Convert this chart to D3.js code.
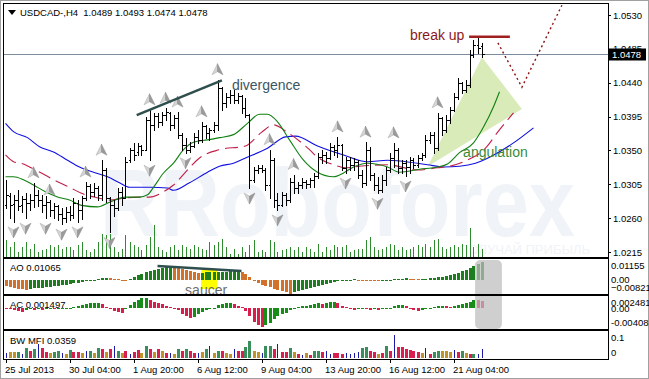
<!DOCTYPE html>
<html>
<head>
<meta charset="utf-8">
<script src="https://cdnjs.cloudflare.com/ajax/libs/d3/7.8.5/d3.min.js"></script>
<style>
  body { margin: 0; background: #fff; }
  svg { display: block; font-family: "Liberation Sans", Arial, sans-serif; }
</style>
</head>
<body>
<svg id="chart" width="649" height="379"></svg>
<script>
// USDCAD H4, bar 0 = first bar on screen (25 Jul 2013), bar 119 = last
const opens = [1.0277,1.0289,1.0279,1.0284,1.0277,1.0285,1.0280,1.0284,1.0291,1.0284,
  1.0277,1.0281,1.0271,1.0276,1.0266,1.0260,1.0268,1.0264,1.0280,1.0271,
  1.0287,1.0303,1.0295,1.0300,1.0291,1.0324,1.0287,1.0277,1.0273,1.0295,
  1.0287,1.0337,1.0351,1.0348,1.0356,1.0351,1.0390,1.0384,1.0396,1.0388,
  1.0397,1.0400,1.0384,1.0393,1.0371,1.0357,1.0351,1.0356,1.0368,1.0364,
  1.0382,1.0373,1.0377,1.0384,1.0433,1.0413,1.0421,1.0424,1.0417,1.0422,
  1.0406,1.0397,1.0311,1.0324,1.0327,1.0324,1.0304,1.0337,1.0284,1.0277,
  1.0291,1.0284,1.0308,1.0300,1.0304,1.0308,1.0305,1.0311,1.0316,1.0341,
  1.0344,1.0340,1.0355,1.0351,1.0357,1.0327,1.0337,1.0331,1.0335,1.0317,
  1.0307,1.0351,1.0317,1.0304,1.0297,1.0311,1.0324,1.0340,1.0351,1.0327,
  1.0333,1.0328,1.0337,1.0331,1.0340,1.0344,1.0364,1.0371,1.0353,1.0393,
  1.0377,1.0390,1.0404,1.0421,1.0440,1.0430,1.0437,1.0477,1.0490,1.0489];
const highs = [1.0311,1.0293,1.0291,1.0297,1.0289,1.0293,1.0292,1.0307,1.0297,1.0291,
  1.0289,1.0284,1.0280,1.0277,1.0273,1.0275,1.0276,1.0287,1.0284,1.0289,
  1.0308,1.0305,1.0307,1.0303,1.0337,1.0326,1.0288,1.0284,1.0300,1.0301,
  1.0341,1.0353,1.0360,1.0360,1.0357,1.0394,1.0404,1.0400,1.0400,1.0401,
  1.0406,1.0401,1.0397,1.0401,1.0373,1.0367,1.0361,1.0373,1.0377,1.0388,
  1.0384,1.0380,1.0388,1.0444,1.0434,1.0426,1.0430,1.0430,1.0426,1.0424,
  1.0420,1.0399,1.0328,1.0331,1.0331,1.0327,1.0351,1.0340,1.0293,1.0295,
  1.0293,1.0313,1.0318,1.0308,1.0313,1.0311,1.0313,1.0320,1.0347,1.0351,
  1.0348,1.0360,1.0357,1.0368,1.0359,1.0341,1.0341,1.0340,1.0337,1.0324,
  1.0361,1.0355,1.0320,1.0315,1.0317,1.0328,1.0347,1.0360,1.0353,1.0337,
  1.0337,1.0341,1.0340,1.0344,1.0347,1.0371,1.0374,1.0374,1.0400,1.0394,
  1.0397,1.0408,1.0426,1.0446,1.0441,1.0444,1.0483,1.0497,1.0499,1.0493];
const lows = [1.0273,1.0260,1.0255,1.0271,1.0268,1.0260,1.0271,1.0275,1.0276,1.0268,
  1.0260,1.0263,1.0260,1.0258,1.0252,1.0255,1.0258,1.0260,1.0255,1.0259,
  1.0284,1.0287,1.0289,1.0284,1.0284,1.0281,1.0241,1.0263,1.0271,1.0277,
  1.0287,1.0335,1.0337,1.0344,1.0344,1.0351,1.0337,1.0377,1.0381,1.0384,
  1.0390,1.0377,1.0380,1.0367,1.0351,1.0347,1.0348,1.0355,1.0360,1.0361,
  1.0367,1.0364,1.0374,1.0377,1.0404,1.0408,1.0413,1.0413,1.0413,1.0400,
  1.0394,1.0300,1.0308,1.0320,1.0321,1.0297,1.0287,1.0275,1.0271,1.0276,
  1.0277,1.0282,1.0293,1.0293,1.0300,1.0300,1.0301,1.0301,1.0314,1.0333,
  1.0333,1.0338,1.0344,1.0341,1.0324,1.0320,1.0324,1.0324,1.0313,1.0301,
  1.0304,1.0311,1.0297,1.0293,1.0295,1.0304,1.0321,1.0328,1.0320,1.0320,
  1.0316,1.0320,1.0327,1.0328,1.0337,1.0341,1.0360,1.0347,1.0351,1.0371,
  1.0375,1.0386,1.0402,1.0418,1.0426,1.0428,1.0434,1.0474,1.0479,1.0474];
const closes = [1.0291,1.0277,1.0284,1.0276,1.0285,1.0280,1.0284,1.0291,1.0284,1.0277,
  1.0281,1.0271,1.0276,1.0266,1.0260,1.0268,1.0264,1.0280,1.0271,1.0287,
  1.0303,1.0295,1.0300,1.0291,1.0324,1.0287,1.0277,1.0273,1.0295,1.0287,
  1.0335,1.0351,1.0344,1.0356,1.0351,1.0390,1.0384,1.0396,1.0388,1.0397,
  1.0401,1.0384,1.0393,1.0371,1.0357,1.0351,1.0356,1.0368,1.0364,1.0382,
  1.0373,1.0377,1.0384,1.0433,1.0413,1.0421,1.0424,1.0417,1.0422,1.0406,
  1.0397,1.0311,1.0324,1.0327,1.0324,1.0304,1.0337,1.0284,1.0277,1.0291,
  1.0284,1.0308,1.0300,1.0304,1.0308,1.0305,1.0311,1.0316,1.0341,1.0344,
  1.0340,1.0355,1.0351,1.0357,1.0327,1.0337,1.0331,1.0335,1.0317,1.0307,
  1.0351,1.0317,1.0304,1.0297,1.0311,1.0324,1.0340,1.0351,1.0327,1.0333,
  1.0328,1.0337,1.0331,1.0340,1.0344,1.0364,1.0371,1.0353,1.0393,1.0377,
  1.0390,1.0404,1.0421,1.0440,1.0430,1.0437,1.0477,1.0490,1.0486,1.0478];

// tick volume per bar
const volumes = [1720,1010,1530,480,1040,1490,820,1310,530,690,800,1190,1000,1220,790,1010,980,720,1180,1520,
  690,510,830,1480,2310,2190,2330,1010,520,790,2210,1480,1190,1010,720,1210,2010,3180,1020,690,
  520,990,1190,710,1210,1010,790,1190,980,810,720,1490,1200,1510,1790,1010,330,790,310,1010,
  520,1190,1710,510,720,520,1690,1490,520,710,810,1010,700,990,520,1010,790,510,1290,520,
  1010,700,1190,1010,990,1210,510,690,810,790,1690,1990,1010,700,810,990,1290,1210,690,1010,
  710,790,990,1190,1010,1290,990,1690,1810,1010,790,1010,1190,990,1310,1190,2890,1010,1290,790];

// Alligator lines, [bar, price] (shifted forward, so they run past the last bar)
const jawLine = [[0,1.0386],[2,1.0375],[5.5,1.0367],[8.5,1.0355],[12,1.0348],[15.5,1.0337],[18.5,1.0328],
  [22,1.0321],[25.5,1.0315],[28.5,1.0307],[31,1.0301],[36,1.0301],[40.5,1.0300],[42,1.0297],[46,1.0307],
  [50.5,1.0321],[53.5,1.0329],[57,1.0333],[60,1.0340],[65.5,1.0353],[70,1.0368],[72.5,1.0369],[78,1.0356],
  [84.5,1.0344],[90.5,1.0335],[95.5,1.0337],[98.5,1.0336],[105.5,1.0331],[109.5,1.0328],[113.5,1.0329],
  [117.5,1.0333],[121,1.0341],[127,1.0360],[132,1.0380]];
const teethLine = [[0,1.0344],[2,1.0335],[4.5,1.0332],[6,1.0328],[10,1.0317],[12,1.0311],[16,1.0301],
  [19,1.0293],[23,1.0287],[26,1.0284],[30,1.0287],[33.5,1.0288],[36,1.0288],[39.5,1.0295],[42,1.0304],
  [46,1.0327],[48.5,1.0340],[53.5,1.0351],[60,1.0356],[64,1.0374],[67,1.0384],[70.5,1.0374],[76,1.0351],
  [78,1.0341],[82,1.0331],[85,1.0327],[88.5,1.0329],[95.5,1.0331],[103,1.0324],[108,1.0327],[111,1.0329],
  [115,1.0336],[120,1.0353],[123,1.0374],[127,1.0400]];
const lipsLine = [[0,1.0315],[2,1.0315],[4.5,1.0311],[7,1.0304],[10,1.0295],[13,1.0288],[16,1.0284],
  [19,1.0277],[23,1.0275],[26,1.0281],[30,1.0288],[33.5,1.0288],[35.5,1.0291],[37,1.0301],[39.5,1.0320],
  [42,1.0333],[44.5,1.0351],[47,1.0361],[50.5,1.0364],[53.5,1.0367],[57,1.0371],[60.5,1.0386],[63.5,1.0398],
  [65.5,1.0398],[68,1.0388],[71,1.0364],[74.5,1.0337],[78,1.0321],[82,1.0315],[84.5,1.0320],[87,1.0328],
  [90.5,1.0333],[95.5,1.0328],[98.5,1.0321],[103.5,1.0325],[108,1.0328],[110.5,1.0332],[113.5,1.0347],
  [117,1.0360],[119.5,1.0381],[122,1.0408],[123.5,1.0428]];

// fractal bars
const upFractals = [7,11,20,24,36,40,43,49,53,66,72,83,90,97,108];
const downFractals = [2,5,10,14,18,26,36,45,61,68,85,93,100];

// Awesome Oscillator
const aoValues = [-0.0037,-0.0044,-0.0049,-0.0052,-0.0054,-0.0056,-0.0052,-0.0050,-0.0047,-0.0046,
  -0.0043,-0.0040,-0.0037,-0.0035,-0.0031,-0.0028,-0.0025,-0.0021,-0.0017,-0.0014,
  -0.0009,-0.0005,0.0002,0.0005,0.0009,0.0011,0.0010,0.0007,0.0004,0.0001,
  -0.0003,0.0004,0.0014,0.0026,0.0036,0.0046,0.0050,0.0058,0.0065,0.0070,
  0.0074,0.0077,0.0073,0.0068,0.0063,0.0057,0.0052,0.0046,0.0041,0.0042,
  0.0043,0.0044,0.0045,0.0046,0.0047,0.0048,0.0049,0.0050,0.0051,0.0045,
  0.0034,0.0019,-0.0007,-0.0018,-0.0027,-0.0036,-0.0044,-0.0051,-0.0057,-0.0064,
  -0.0071,-0.0080,-0.0073,-0.0067,-0.0061,-0.0055,-0.0048,-0.0042,-0.0036,-0.0030,
  -0.0024,-0.0018,-0.0012,-0.0005,-0.0002,0.0001,0.0002,0.0003,0.0001,-0.0001,
  -0.0002,-0.0003,-0.0004,-0.0005,-0.0004,-0.0002,0.0001,0.0004,0.0006,0.0007,
  0.0008,0.0006,0.0004,0.0003,0.0004,0.0006,0.0008,0.0011,0.0014,0.0017,
  0.0022,0.0027,0.0034,0.0041,0.0049,0.0058,0.0068,0.0079,0.0092,0.01065];

// Accelerator Oscillator
const acValues = [0.00010,-0.00020,-0.00040,-0.00056,-0.00064,-0.00040,-0.00020,-0.00026,-0.00012,-0.00024,
  -0.00016,-0.00010,-0.00020,-0.00014,-0.00006,0.00006,0.00016,0.00026,0.00040,0.00064,
  0.00088,0.00103,0.00111,0.00115,0.00080,0.00030,-0.00020,-0.00050,-0.00076,-0.00090,
  -0.00020,0.00060,0.00119,0.00169,0.00199,0.00205,0.00159,0.00129,0.00105,0.00080,
  0.00056,0.00030,0.00006,-0.00040,-0.00100,-0.00149,-0.00199,-0.00179,-0.00119,-0.00070,
  -0.00030,-0.00006,0.00010,0.00070,0.00090,0.00100,0.00105,0.00080,0.00050,0.00020,
  -0.00060,-0.00159,-0.00259,-0.00338,-0.00378,-0.00338,-0.00279,-0.00219,-0.00159,-0.00119,
  -0.00080,-0.00040,0.00010,0.00024,0.00040,0.00056,0.00070,0.00080,0.00100,0.00090,
  0.00109,0.00119,0.00129,0.00109,0.00050,0.00020,-0.00010,-0.00030,-0.00020,-0.00010,
  -0.00020,-0.00030,-0.00020,-0.00026,-0.00016,-0.00006,0.00016,0.00040,0.00060,0.00070,
  0.00040,0.00010,-0.00030,-0.00050,-0.00030,-0.00010,0.00010,0.00026,0.00040,0.00052,
  0.00044,0.00036,0.00056,0.00070,0.00086,0.00100,0.00119,0.00175,0.00163,0.001497];

// Bill Williams Market Facilitation Index and its zone
// g = green, f = fade, k = fake, s = squat
const mfiValues = [0.0193,0.0231,0.0231,0.0231,0.0154,0.0385,0.0270,0.0347,0.0539,0.0385,
  0.0231,0.0193,0.0231,0.0270,0.0193,0.0154,0.0308,0.0231,0.0231,0.0193,
  0.0270,0.0270,0.0193,0.0385,0.0347,0.0231,0.0347,0.0462,0.0270,0.0193,
  0.0270,0.0154,0.0231,0.0308,0.0193,0.0462,0.0347,0.0231,0.0347,0.0270,
  0.0193,0.0193,0.0154,0.0347,0.0270,0.0347,0.0270,0.0193,0.0193,0.0231,
  0.0347,0.0462,0.0193,0.0270,0.0270,0.0193,0.0154,0.0347,0.0270,0.0270,
  0.0424,0.0655,0.0270,0.0231,0.0193,0.0462,0.0462,0.0347,0.0539,0.0231,
  0.0231,0.0385,0.0231,0.0154,0.0116,0.0193,0.0116,0.0270,0.0270,0.0231,
  0.0270,0.0154,0.0193,0.0193,0.0154,0.0193,0.0154,0.0193,0.0231,0.0385,
  0.0424,0.0270,0.0231,0.0154,0.0193,0.0462,0.0270,0.0886,0.0424,0.0424,
  0.0347,0.0308,0.0270,0.0231,0.0193,0.0385,0.0154,0.0231,0.0270,0.0270,
  0.0270,0.0231,0.0308,0.0231,0.0270,0.0193,0.0154,0.0154,0.0154,0.0359];
const mfiZones = ["k","f","f","g","k","g","s","g","k","s","s","f","g","g","k","f","g","s","s","f",
  "k","g","f","g","s","f","s","k","g","f","s","k","s","s","f","g","s","f","s","f",
  "s","k","f","g","s","g","s","s","k","f","g","k","f","g","s","f","f","k","s","s",
  "g","g","f","f","k","g","g","s","k","s","s","g","f","s","k","f","s","g","g","s",
  "k","k","s","s","s","k","k","k","k","g","g","s","s","f","s","g","s","k","s","s",
  "s","s","s","s","f","k","s","g","g","f","f","f","k","s","g","f","s","g","k","k"];

const priceTicks = [1.0530, 1.0485, 1.0440, 1.0395, 1.0350, 1.0305, 1.0260, 1.0215];
const lastPrice = 1.0478;
const dateTickBars = [0, 16, 32, 48, 64, 80, 96, 112];
const dateLabels = ["25 Jul 2013", "30 Jul 04:00", "1 Aug 20:00", "6 Aug 12:00",
  "9 Aug 04:00", "13 Aug 20:00", "16 Aug 12:00", "21 Aug 04:00"];

// hand-drawn analysis marks, [bar, value]
const divergenceLine = [[32.8, 1.0397], [54.1, 1.0443]];
const aoDivergenceLine = [[38, 0.0081], [59, 0.0052]];
const breakUpLine = [[115.9, 1.0501], [126.1, 1.0501]];
const forecastPath = [[123.1, 1.0493], [129.1, 1.0434], [139.1, 1.0543]];
const angulationFan = [[105.6, 1.0329], [119.1, 1.0474], [129.1, 1.0405]];
const saucerBox = [[48.9, 0.0058], [52.9, -0.0053]];

// ------------------------------------------------------------------------------------------

const svg = d3.select("#chart");
const left = 4, right = 608;
const mainTop = 4, mainBottom = 257;
const aoTop = 259, aoBottom = 294;
const acTop = 296, acBottom = 329;
const mfiTop = 331, mfiBottom = 359;

const x = d3.scaleLinear().domain([0, 119]).range([5.5, 481.5]);
const y = d3.scaleLinear().domain([1.0215, 1.0530]).range([252, 15]);
const yVol = d3.scaleLinear().domain([0, 4000]).range([mainBottom, mainBottom - 40]);
const yAO = d3.scaleLinear().domain([-0.00821, 0.01155]).range([aoBottom, aoTop + 1]);
const yAC = d3.scaleLinear().domain([-0.00408, 0.002481]).range([acBottom, acTop]);
const yMFI = d3.scaleLinear().domain([0, 0.1]).range([mfiBottom - 1, mfiTop + 1]);

const px = (i) => Math.round(x(i)) + 0.5;

const defs = svg.append("defs");
[["clipMain", mainTop, mainBottom], ["clipAO", aoTop, aoBottom], ["clipAC", acTop, acBottom],
 ["clipMFI", mfiTop, mfiBottom]].forEach(([id, t, b]) => {
  defs.append("clipPath").attr("id", id)
    .append("rect").attr("x", left).attr("y", t).attr("width", right - left).attr("height", b - t);
});

svg.append("rect").attr("width", 649).attr("height", 379).attr("fill", "#fff");

// ---------------- main window ----------------
const main = svg.append("g").attr("clip-path", "url(#clipMain)");

// watermark
main.append("text")
  .attr("x", 100).attr("y", 236)
  .attr("font-size", 96).attr("font-weight", "bold")
  .attr("fill", "#f0f3f7")
  .attr("textLength", 475).attr("lengthAdjust", "spacingAndGlyphs")
  .text("RRoboforex");
main.append("text")
  .attr("x", 590).attr("y", 254).attr("text-anchor", "end")
  .attr("font-size", 13).attr("fill", "#f0f3f7")
  .text("ПОЛУЧАЙ ПРИБЫЛЬ");

// angulation fan
main.append("path")
  .attr("d", d3.line().x(d => x(d[0])).y(d => y(d[1]))(angulationFan) + "Z")
  .attr("fill", "#d8ebb8");

// volumes
main.append("g").attr("stroke", "#2e8b2e").attr("shape-rendering", "crispEdges")
  .selectAll("line").data(volumes).join("line")
  .attr("x1", (d, i) => px(i)).attr("x2", (d, i) => px(i))
  .attr("y1", yVol(0)).attr("y2", d => yVol(d));

// alligator
const curve = d3.line().x(d => x(d[0])).y(d => y(d[1])).curve(d3.curveMonotoneX);
main.append("path").attr("d", curve(jawLine)).attr("fill", "none").attr("stroke", "#1010e0").attr("stroke-width", 1.1);
main.append("path").attr("d", curve(teethLine)).attr("fill", "none").attr("stroke", "#c02048")
  .attr("stroke-width", 1.1).attr("stroke-dasharray", "13,6");
main.append("path").attr("d", curve(lipsLine)).attr("fill", "none").attr("stroke", "#108010").attr("stroke-width", 1.1);

// last price line
main.append("line")
  .attr("x1", left).attr("x2", right)
  .attr("y1", Math.round(y(lastPrice)) + 0.5).attr("y2", Math.round(y(lastPrice)) + 0.5)
  .attr("stroke", "#7d8c9c").attr("shape-rendering", "crispEdges");

// OHLC bars
const bars = opens.map((o, i) => ({ i, o, h: highs[i], l: lows[i], c: closes[i] }));
main.append("g").attr("stroke", "#000").attr("stroke-width", 1).attr("fill", "none")
  .attr("shape-rendering", "crispEdges")
  .selectAll("path").data(bars).join("path")
  .attr("d", d => {
    const cx = px(d.i);
    const yo = Math.round(y(d.o)) + 0.5, yc = Math.round(y(d.c)) + 0.5;
    return `M${cx},${Math.round(y(d.h))}V${Math.round(y(d.l)) + 1}M${cx - 2},${yo}H${cx}M${cx},${yc}H${cx + 2}`;
  });

// fractals
function fractal(g, up) {
  const s = up ? 1 : -1;
  g.append("path").attr("d", `M0,${-6 * s}L${-5.5},${5 * s}L0,${2 * s}Z`).attr("fill", "#d4d4d4").attr("stroke", "#a8a8a8").attr("stroke-width", 0.5);
  g.append("path").attr("d", `M0,${-6 * s}L5.5,${5 * s}L0,${2 * s}Z`).attr("fill", "#9a9a9a").attr("stroke", "#8a8a8a").attr("stroke-width", 0.5);
}
main.append("g").selectAll("g").data(upFractals).join("g")
  .attr("transform", i => `translate(${x(i)},${y(highs[i]) - 10})`)
  .each(function () { fractal(d3.select(this), true); });
main.append("g").selectAll("g").data(downFractals).join("g")
  .attr("transform", i => `translate(${x(i)},${y(lows[i]) + 10})`)
  .each(function () { fractal(d3.select(this), false); });

// analysis marks
const lineXY = d3.line().x(d => x(d[0])).y(d => y(d[1]));
main.append("path").attr("d", lineXY(divergenceLine)).attr("stroke", "#2f4f4f").attr("stroke-width", 2.5).attr("fill", "none");
main.append("text").attr("x", x(56.6)).attr("y", y(1.0437) + 5)
  .attr("font-size", 14).attr("fill", "#3b5663").text("divergence");
main.append("path").attr("d", lineXY(breakUpLine)).attr("stroke", "#a02020").attr("stroke-width", 2.5).attr("fill", "none");
main.append("text").attr("x", x(101.1)).attr("y", y(1.0497))
  .attr("font-size", 14).attr("fill", "#8b1a1a").text("break up");
main.append("path").attr("d", lineXY(forecastPath)).attr("stroke", "#8b1010").attr("stroke-width", 1.4)
  .attr("stroke-dasharray", "2,3").attr("fill", "none");
main.append("text").attr("x", x(114.4)).attr("y", y(1.0341))
  .attr("font-size", 14).attr("fill", "#3a8a3a").text("angulation");

// ---------------- AO ----------------
const ao = svg.append("g").attr("clip-path", "url(#clipAO)");
ao.append("rect")
  .attr("x", x(saucerBox[0][0])).attr("y", yAO(saucerBox[0][1]))
  .attr("width", x(saucerBox[1][0]) - x(saucerBox[0][0]))
  .attr("height", yAO(saucerBox[1][1]) - yAO(saucerBox[0][1]))
  .attr("fill", "#ffff00");
ao.append("g").attr("shape-rendering", "crispEdges")
  .selectAll("rect").data(aoValues).join("rect")
  .attr("x", (d, i) => Math.round(x(i)) - 1).attr("width", 3)
  .attr("y", d => Math.min(yAO(d), yAO(0)))
  .attr("height", d => Math.max(1, Math.abs(yAO(d) - yAO(0))))
  .attr("fill", (d, i) => (i > 0 && d > aoValues[i - 1]) ? "#1e7d1e" : "#d2712a");
ao.append("path").attr("d", d3.line().x(d => x(d[0])).y(d => yAO(d[1]))(aoDivergenceLine))
  .attr("stroke", "#2f4f4f").attr("stroke-width", 2.5).attr("fill", "none");

// ---------------- AC ----------------
const ac = svg.append("g").attr("clip-path", "url(#clipAC)");
ac.append("g").attr("shape-rendering", "crispEdges")
  .selectAll("rect").data(acValues).join("rect")
  .attr("x", (d, i) => Math.round(x(i)) - 1).attr("width", 3)
  .attr("y", d => Math.min(yAC(d), yAC(0)))
  .attr("height", d => Math.max(1, Math.abs(yAC(d) - yAC(0))))
  .attr("fill", (d, i) => (i > 0 && d > acValues[i - 1]) ? "#188c18" : "#d81e4a");

// ---------------- MFI ----------------
const mfiColors = { g: "#3a8e5c", f: "#c0922a", k: "#1a1aa6", s: "#d82050" };
const mfi = svg.append("g").attr("clip-path", "url(#clipMFI)").attr("shape-rendering", "crispEdges");
mfi.selectAll("rect").data(mfiValues).join("rect")
  .attr("x", (d, i) => mfiZones[i] === "k" ? Math.round(x(i)) : Math.round(x(i)) - 1)
  .attr("width", (d, i) => mfiZones[i] === "k" ? 1 : 3)
  .attr("y", d => yMFI(d))
  .attr("height", d => yMFI(0) - yMFI(d))
  .attr("fill", (d, i) => mfiColors[mfiZones[i]]);

// greyed-out last bars
svg.append("rect")
  .attr("x", x(117.4)).attr("y", aoTop + 1)
  .attr("width", x(124.1) - x(117.4)).attr("height", acBottom - aoTop - 1)
  .attr("rx", 5).attr("fill", "#bdbdbd").attr("opacity", 0.72);

// saucer label
svg.append("text").attr("x", x(44.9)).attr("y", 295)
  .attr("font-size", 14).attr("fill", "#555").attr("opacity", 0.85).text("saucer");

// ---------------- frames ----------------
const frames = svg.append("g").attr("fill", "none").attr("stroke", "#000").attr("shape-rendering", "crispEdges");
[[mainTop, mainBottom], [aoTop, aoBottom], [acTop, acBottom], [mfiTop, mfiBottom]].forEach(([t, b]) => {
  frames.append("rect").attr("x", left - 0.5).attr("y", t - 0.5).attr("width", right - left + 1).attr("height", b - t + 1);
});
svg.append("rect").attr("x", 0.5).attr("y", 0.5).attr("width", 648).attr("height", 378)
  .attr("fill", "none").attr("stroke", "#a0a0a0");

// ---------------- axes ----------------
const priceAxis = svg.append("g").attr("transform", `translate(${right},0)`)
  .call(d3.axisRight(y).tickValues(priceTicks).tickSize(3).tickPadding(2).tickFormat(d3.format(".4f")));
priceAxis.select(".domain").remove();
priceAxis.selectAll("text").attr("font-size", 9.5).attr("font-family", "Liberation Sans, Arial, sans-serif");
priceAxis.selectAll("line").attr("shape-rendering", "crispEdges");

// last price marker
const lp = svg.append("g").attr("transform", `translate(${right},${Math.round(y(lastPrice)) + 0.5})`);
lp.append("rect").attr("x", 0).attr("y", -6).attr("width", 38).attr("height", 12).attr("fill", "#000");
lp.append("text").attr("x", 4).attr("dy", "0.34em").attr("font-size", 9.5).attr("fill", "#fff")
  .text(d3.format(".4f")(lastPrice));

function sideAxis(scale, values, fmt, top, bottom) {
  const g = svg.append("g").attr("transform", `translate(${right},0)`)
    .call(d3.axisRight(scale).tickValues(values).tickSize(0).tickPadding(3).tickFormat(fmt));
  g.select(".domain").remove();
  g.selectAll(".tick").attr("transform", d => `translate(0,${Math.max(top + 7, Math.min(bottom - 6, scale(d)))})`);
  g.selectAll("text").attr("font-size", 9.5);
}
sideAxis(yAO, [0.01155, 0, -0.00821], d => d === 0 ? "0.00" : d3.format(".5f")(d), aoTop, aoBottom);
sideAxis(yAC, [0.002481, 0, -0.00408], d => d === 0 ? "0.00" : (d > 0 ? "0.002481" : "-0.00408"), acTop, acBottom);
sideAxis(yMFI, [0.1, 0], d => d === 0 ? "0" : "0.1", mfiTop, mfiBottom);

const dateAxis = svg.append("g").attr("transform", `translate(0,${mfiBottom})`)
  .call(d3.axisBottom(x).tickValues(dateTickBars).tickSize(4).tickPadding(3)
    .tickFormat((d, i) => dateLabels[i]));
dateAxis.select(".domain").remove();
dateAxis.selectAll("line").attr("shape-rendering", "crispEdges");
dateAxis.selectAll("text").attr("text-anchor", "start").attr("dx", -1).attr("font-size", 9.5);

// ---------------- labels ----------------
svg.append("path").attr("d", "M8,10h8l-4,5z").attr("fill", "#000");
svg.append("text").attr("x", 20).attr("y", 16).attr("font-size", 9.5)
  .text(`USDCAD-,H4  ${d3.format(".4f")(opens[119])} ${d3.format(".4f")(highs[119])} ${d3.format(".4f")(lows[119])} ${d3.format(".4f")(closes[119])}`)
  .attr("xml:space", "preserve").style("white-space", "pre");
svg.append("text").attr("x", 10).attr("y", 271).attr("font-size", 9.5).text(`AO ${aoValues[119]}`);
svg.append("text").attr("x", 10).attr("y", 308).attr("font-size", 9.5).text(`AC ${acValues[119]}`);
svg.append("text").attr("x", 10).attr("y", 344).attr("font-size", 9.5).text(`BW MFI ${mfiValues[119]}`);
</script>
</body>
</html>
